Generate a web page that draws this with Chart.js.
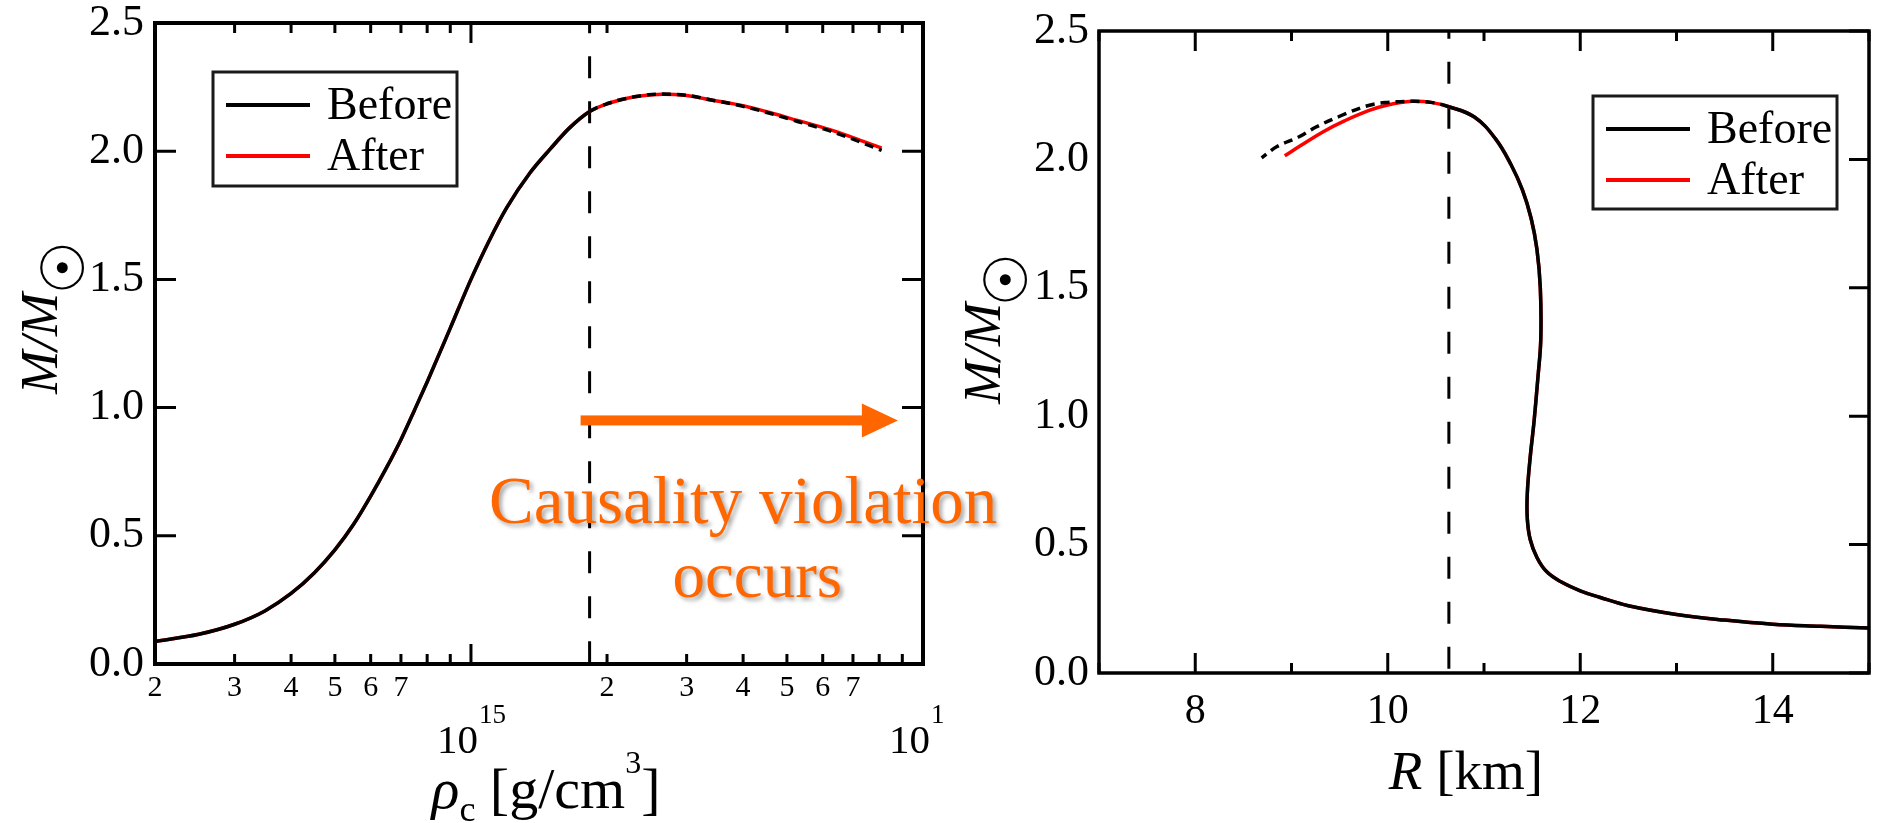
<!DOCTYPE html>
<html><head><meta charset="utf-8">
<script src="https://cdn.jsdelivr.net/npm/chart.js@4.4.1/dist/chart.umd.min.js"></script>
<style>
html,body{margin:0;padding:0;background:#fff;}
#wrap{position:relative;width:1878px;height:823px;overflow:hidden;background:#fff;}
canvas{position:absolute;left:0;top:0;}
</style></head><body>
<div id="wrap"><canvas id="c1" width="1878" height="823"></canvas><canvas id="c2" width="1878" height="823"></canvas></div>
<script>
// ---------------- data ----------------
const seriesLabels = ['Before', 'After'];
// left panel: central density vs mass
const rhoC = [2.0e14, 2.5e14, 3.0e14, 3.5e14, 4.0e14, 4.5e14, 5.0e14, 5.5e14, 6.0e14, 6.5e14, 7.0e14, 7.5e14, 8.0e14, 9.0e14, 1.0e15, 1.1e15, 1.2e15, 1.35e15, 1.5e15, 1.65e15, 1.83e15, 2.0e15, 2.3e15, 2.65e15, 3.0e15, 3.4e15, 4.0e15, 4.6e15, 5.3e15, 6.2e15, 7.0e15, 8.1e15];
const massBeforeRho = [0.088, 0.116, 0.155, 0.207, 0.275, 0.355, 0.445, 0.545, 0.655, 0.765, 0.875, 0.99, 1.1, 1.31, 1.5, 1.655, 1.78, 1.915, 2.01, 2.09, 2.155, 2.185, 2.212, 2.223, 2.218, 2.20, 2.175, 2.147, 2.115, 2.08, 2.047, 2.003];
const massAfterRho  = [0.088, 0.116, 0.155, 0.207, 0.275, 0.355, 0.445, 0.545, 0.655, 0.765, 0.875, 0.99, 1.1, 1.31, 1.5, 1.655, 1.78, 1.915, 2.01, 2.09, 2.155, 2.185, 2.212, 2.222, 2.217, 2.20, 2.177, 2.15, 2.119, 2.085, 2.053, 2.012];
const rhoTickValues = [2e14, 3e14, 4e14, 5e14, 6e14, 7e14, 8e14, 9e14, 1e15, 2e15, 3e15, 4e15, 5e15, 6e15, 7e15, 8e15, 9e15, 1e16];
const rhoTickLabels = ['2', '3', '4', '5', '6', '7', '', '', '', '2', '3', '4', '5', '6', '7', '', '', ''];
const rhoMajorValues = [1e15, 1e16];
const rhoMajorExponents = ['15', '16'];
const causalRho = 1.83e15;
// right panel: radius vs mass
const radiusBefore = [15.0, 14.5, 14.0, 13.5, 13.0, 12.5, 12.2, 12.0, 11.8, 11.65, 11.55, 11.48, 11.45, 11.45, 11.48, 11.52, 11.56, 11.59, 11.585, 11.55, 11.49, 11.40, 11.28, 11.12, 10.9, 10.635, 10.45, 10.25, 10.0, 9.8, 9.5, 9.25, 9.08, 8.85, 8.69];
const massBeforeR  = [0.175, 0.182, 0.19, 0.206, 0.228, 0.262, 0.295, 0.32, 0.355, 0.395, 0.45, 0.52, 0.6, 0.7, 0.84, 0.98, 1.15, 1.3, 1.5, 1.65, 1.77, 1.88, 1.98, 2.08, 2.165, 2.205, 2.222, 2.226, 2.222, 2.21, 2.168, 2.125, 2.088, 2.05, 2.006];
const radiusAfter  = [15.0, 14.5, 14.0, 13.5, 13.0, 12.5, 12.2, 12.0, 11.8, 11.65, 11.55, 11.48, 11.45, 11.45, 11.48, 11.52, 11.56, 11.59, 11.585, 11.55, 11.49, 11.40, 11.28, 11.12, 10.9, 10.635, 10.45, 10.25, 10.0, 9.8, 9.55, 9.33, 9.1, 8.93];
const massAfterR   = [0.175, 0.182, 0.19, 0.206, 0.228, 0.262, 0.295, 0.32, 0.355, 0.395, 0.45, 0.52, 0.6, 0.7, 0.84, 0.98, 1.15, 1.3, 1.5, 1.65, 1.77, 1.88, 1.98, 2.08, 2.165, 2.205, 2.222, 2.226, 2.212, 2.19, 2.15, 2.108, 2.055, 2.014];
const causalR = 10.635;
const radiusTickValues = [7, 8, 9, 10, 11, 12, 13, 14, 15];
const massTickValues = [0, 0.5, 1.0, 1.5, 2.0, 2.5];
const annotationLines = ['Causality violation', 'occurs'];
const xTitleLeft = [['ρ', 'main-i'], ['c', 'sub'], [' [g/cm', 'main'], ['3', 'sup'], [']', 'main']];
const xTitleRight = [['R', 'main-i'], [' [km]', 'main']];
const yTitle = ['M/M', '☉', '•'];

// ---------------- styling / helpers ----------------
const SERIF = "'Liberation Serif', 'Times New Roman', serif";
Chart.defaults.font.family = SERIF;
Chart.defaults.color = '#000';

function toXY(xs, ys) { return xs.map((x, i) => ({ x: x, y: ys[i] })); }

function drawRich(ctx, parts, cx, baseY, size) {
  const styles = {
    'main': { f: size + 'px ' + SERIF, dy: 0 },
    'main-i': { f: 'italic ' + size + 'px ' + SERIF, dy: 0 },
    'sub': { f: Math.round(size * 0.62) + 'px ' + SERIF, dy: size * 0.22 },
    'sup': { f: Math.round(size * 0.56) + 'px ' + SERIF, dy: -size * 0.6 }
  };
  let total = 0;
  parts.forEach(p => { ctx.font = styles[p[1]].f; total += ctx.measureText(p[0]).width; });
  let x = cx - total / 2;
  ctx.textAlign = 'left'; ctx.textBaseline = 'alphabetic';
  parts.forEach(p => {
    const s = styles[p[1]]; ctx.font = s.f;
    ctx.fillText(p[0], x, baseY + s.dy);
    x += ctx.measureText(p[0]).width;
  });
}

// draw a glyph so that its ink box is centred on (0,0) of current transform
function fillCentered(ctx, txt) {
  ctx.textAlign = 'left'; ctx.textBaseline = 'alphabetic';
  const m = ctx.measureText(txt);
  const x = (m.actualBoundingBoxLeft - m.actualBoundingBoxRight) / 2;
  const y = (m.actualBoundingBoxAscent - m.actualBoundingBoxDescent) / 2;
  ctx.fillText(txt, x, y);
}

function drawYTitle(ctx, startY, baseX, symX, symY) {
  ctx.save();
  ctx.fillStyle = '#000';
  ctx.translate(baseX, startY);
  ctx.rotate(-Math.PI / 2);
  ctx.font = 'italic 52px ' + SERIF;
  ctx.textAlign = 'left'; ctx.textBaseline = 'alphabetic';
  ctx.fillText(yTitle[0], 0, 0);
  ctx.restore();
  ctx.save();
  ctx.fillStyle = '#000';
  ctx.translate(symX, symY);
  ctx.rotate(-Math.PI / 2);
  ctx.font = 'bold 60px "DejaVu Sans"';
  fillCentered(ctx, yTitle[1]);
  ctx.font = '30px "DejaVu Sans"';
  fillCentered(ctx, yTitle[2]);
  ctx.restore();
}

function drawLegend(chart, L) {
  const ctx = chart.ctx;
  ctx.save();
  ctx.lineWidth = 3; ctx.strokeStyle = '#1a1a1a';
  ctx.strokeRect(L.x, L.y, L.w, L.h);
  ctx.font = '46px ' + SERIF; ctx.fillStyle = '#000';
  ctx.textAlign = 'left'; ctx.textBaseline = 'alphabetic';
  chart.data.datasets.forEach((ds, i) => {
    const y = L.y + 33 + i * 51;
    ctx.strokeStyle = ds.borderColor; ctx.lineWidth = 4; ctx.setLineDash([]);
    ctx.beginPath(); ctx.moveTo(L.x + 13, y); ctx.lineTo(L.x + 97, y); ctx.stroke();
    ctx.fillText(ds.label, L.x + 114, y + 14);
  });
  ctx.restore();
}

function drawFrame(chart, cfg) {
  const { ctx, chartArea: a } = chart;
  const xs = chart.scales.x, ys = chart.scales.y;
  ctx.save();
  ctx.setLineDash([]);
  ctx.strokeStyle = '#000';
  ctx.lineWidth = 3;
  ctx.beginPath();
  cfg.xTicks.forEach(t => {
    const px = xs.getPixelForValue(t.value);
    ctx.moveTo(px, a.bottom); ctx.lineTo(px, a.bottom - t.len);
    ctx.moveTo(px, a.top); ctx.lineTo(px, a.top + t.len);
  });
  cfg.yTicks.forEach(t => {
    const py = ys.getPixelForValue(t.value);
    if (cfg.leftY) { ctx.moveTo(a.left, py); ctx.lineTo(a.left + t.len, py); }
    ctx.moveTo(a.right, py); ctx.lineTo(a.right - t.len, py);
  });
  ctx.stroke();
  ctx.lineWidth = cfg.frameWidth;
  ctx.strokeRect(a.left, a.top, a.right - a.left, a.bottom - a.top);
  ctx.restore();
}

function drawCausalLine(chart, value, offset) {
  const { ctx, chartArea: a } = chart;
  const px = chart.scales.x.getPixelForValue(value);
  ctx.save();
  ctx.strokeStyle = '#000'; ctx.lineWidth = 3;
  ctx.setLineDash([22, 23]); ctx.lineDashOffset = offset;
  ctx.beginPath(); ctx.moveTo(px, a.top); ctx.lineTo(px, a.bottom); ctx.stroke();
  ctx.restore();
}

function fixAxisY(width) {
  return s => { s.width = width; s.paddingTop = 0; s.paddingBottom = 0; };
}
function fixAxisX(height) {
  return s => { s.height = height; s.paddingLeft = 0; s.paddingRight = 0; };
}

// ---------------- left chart ----------------
const leftPlugin = {
  id: 'leftDecor',
  beforeDatasetsDraw(chart) { drawCausalLine(chart, causalRho, 11.8); },
  afterDraw(chart) {
    const ctx = chart.ctx, xs = chart.scales.x, ys = chart.scales.y, a = chart.chartArea;
    drawFrame(chart, {
      frameWidth: 4, leftY: true,
      xTicks: rhoTickValues.map(v => ({ value: v, len: rhoMajorValues.includes(v) ? 20 : 10 })),
      yTicks: massTickValues.map(v => ({ value: v, len: 21 }))
    });
    // decade labels 10^15, 10^16
    ctx.save();
    ctx.beginPath(); ctx.rect(0, 0, 943, 823); ctx.clip();
    ctx.fillStyle = '#000';
    rhoMajorValues.forEach((v, i) => {
      const px = xs.getPixelForValue(v);
      ctx.font = '41px ' + SERIF;
      const wb = ctx.measureText('10').width;
      ctx.font = '27px ' + SERIF;
      const we = ctx.measureText(rhoMajorExponents[i]).width;
      const x0 = px - (wb + we) / 2;
      ctx.textAlign = 'left'; ctx.textBaseline = 'alphabetic';
      ctx.font = '41px ' + SERIF; ctx.fillText('10', x0, a.bottom + 89);
      ctx.font = '27px ' + SERIF; ctx.fillText(rhoMajorExponents[i], x0 + wb + 1, a.bottom + 59);
    });
    ctx.restore();
    drawLegend(chart, { x: 213, y: 72, w: 244, h: 114 });
    // axis titles
    ctx.save(); ctx.fillStyle = '#000';
    drawRich(ctx, xTitleLeft, 546, 808, 58);
    ctx.restore();
    drawYTitle(ctx, 394, 57, 62, 268);
    // annotation arrow + text
    const y0 = ys.getPixelForValue(0.95);
    const xStart = xs.getPixelForValue(causalRho) - 9;
    const xTip = xs.getPixelForValue(8.8e15);
    ctx.save();
    ctx.fillStyle = '#ff6600';
    ctx.fillRect(xStart, y0 - 5, xTip - 35 - xStart, 10);
    ctx.beginPath(); ctx.moveTo(xTip - 36, y0 - 17); ctx.lineTo(xTip, y0); ctx.lineTo(xTip - 36, y0 + 17); ctx.closePath(); ctx.fill();
    ctx.textAlign = 'center'; ctx.textBaseline = 'alphabetic';
    ctx.shadowColor = 'rgba(0,0,0,0.35)'; ctx.shadowBlur = 4; ctx.shadowOffsetX = 3; ctx.shadowOffsetY = 3;
    ctx.font = '67px ' + SERIF;
    ctx.fillText(annotationLines[0], xs.getPixelForValue(4.0e15), ys.getPixelForValue(0.55));
    ctx.font = '65px ' + SERIF;
    ctx.fillText(annotationLines[1], xs.getPixelForValue(4.3e15), ys.getPixelForValue(0.26));
    ctx.restore();
  }
};

new Chart(document.getElementById('c1'), {
  type: 'line',
  data: {
    datasets: [
      { label: seriesLabels[0], data: toXY(rhoC, massBeforeRho), borderColor: '#000', borderWidth: 3.5, pointRadius: 0,
        cubicInterpolationMode: 'monotone', order: 0,
        segment: { borderDash: c => (c.p0.parsed.x >= causalRho * 0.999 ? [9, 6] : undefined) } },
      { label: seriesLabels[1], data: toXY(rhoC, massAfterRho), borderColor: '#ff0000', borderWidth: 3.5, pointRadius: 0,
        cubicInterpolationMode: 'monotone', order: 1 }
    ]
  },
  options: {
    responsive: false, animation: false, events: [],
    layout: { padding: { left: 0, top: 23, right: 955, bottom: 0 } },
    plugins: { legend: { display: false }, tooltip: { enabled: false } },
    scales: {
      x: {
        type: 'logarithmic', min: 2e14, max: 1e16,
        grid: { display: false, drawTicks: false }, border: { display: false },
        afterBuildTicks: s => { s.ticks = rhoTickValues.map(v => ({ value: v })); },
        afterFit: fixAxisX(159),
        ticks: { autoSkip: false, maxRotation: 0, minRotation: 0, padding: 6, font: { size: 30 },
          callback: (v, i) => rhoTickLabels[i] }
      },
      y: {
        min: 0, max: 2.5,
        grid: { display: false, drawTicks: false }, border: { display: false },
        afterBuildTicks: s => { s.ticks = massTickValues.map(v => ({ value: v })); },
        afterFit: fixAxisY(155),
        ticks: { padding: 11, font: { size: 44 }, callback: v => Number(v).toFixed(1) }
      }
    }
  },
  plugins: [leftPlugin]
});

// ---------------- right chart ----------------
const rightPlugin = {
  id: 'rightDecor',
  beforeDatasetsDraw(chart) { drawCausalLine(chart, causalR, 14.3); },
  afterDraw(chart) {
    const ctx = chart.ctx;
    drawFrame(chart, {
      frameWidth: 3.5, leftY: false,
      xTicks: radiusTickValues.map(v => ({ value: v, len: v % 2 === 0 ? 20 : 10 })),
      yTicks: massTickValues.map(v => ({ value: v, len: 20 }))
    });
    drawLegend(chart, { x: 1593, y: 96, w: 244, h: 113 });
    ctx.save(); ctx.fillStyle = '#000';
    drawRich(ctx, xTitleRight, 1466, 789, 55);
    ctx.restore();
    drawYTitle(ctx, 404, 1000, 1005, 280);
  }
};

new Chart(document.getElementById('c2'), {
  type: 'line',
  data: {
    datasets: [
      { label: seriesLabels[0], data: toXY(radiusBefore, massBeforeR), borderColor: '#000', borderWidth: 3.5, pointRadius: 0,
        tension: 0.4, order: 0,
        segment: { borderDash: c => (c.p0.parsed.x <= causalR + 1e-6 ? [9, 6] : undefined) } },
      { label: seriesLabels[1], data: toXY(radiusAfter, massAfterR), borderColor: '#ff0000', borderWidth: 3.5, pointRadius: 0,
        tension: 0.4, order: 1 }
    ]
  },
  options: {
    responsive: false, animation: false, events: [],
    layout: { padding: { left: 0, top: 31, right: 9, bottom: 0 } },
    plugins: { legend: { display: false }, tooltip: { enabled: false } },
    scales: {
      x: {
        type: 'linear', min: 7, max: 15,
        grid: { display: false, drawTicks: false }, border: { display: false },
        afterBuildTicks: s => { s.ticks = radiusTickValues.map(v => ({ value: v })); },
        afterFit: fixAxisX(150),
        ticks: { autoSkip: false, maxRotation: 0, minRotation: 0, padding: 14, font: { size: 42 },
          callback: v => (v % 2 === 0 ? String(v) : '') }
      },
      y: {
        min: 0, max: 2.5,
        grid: { display: false, drawTicks: false }, border: { display: false },
        afterBuildTicks: s => { s.ticks = massTickValues.map(v => ({ value: v })); },
        afterFit: fixAxisY(1099),
        ticks: { padding: 10, font: { size: 44 }, callback: v => Number(v).toFixed(1) }
      }
    }
  },
  plugins: [rightPlugin]
});
</script>
</body></html>
